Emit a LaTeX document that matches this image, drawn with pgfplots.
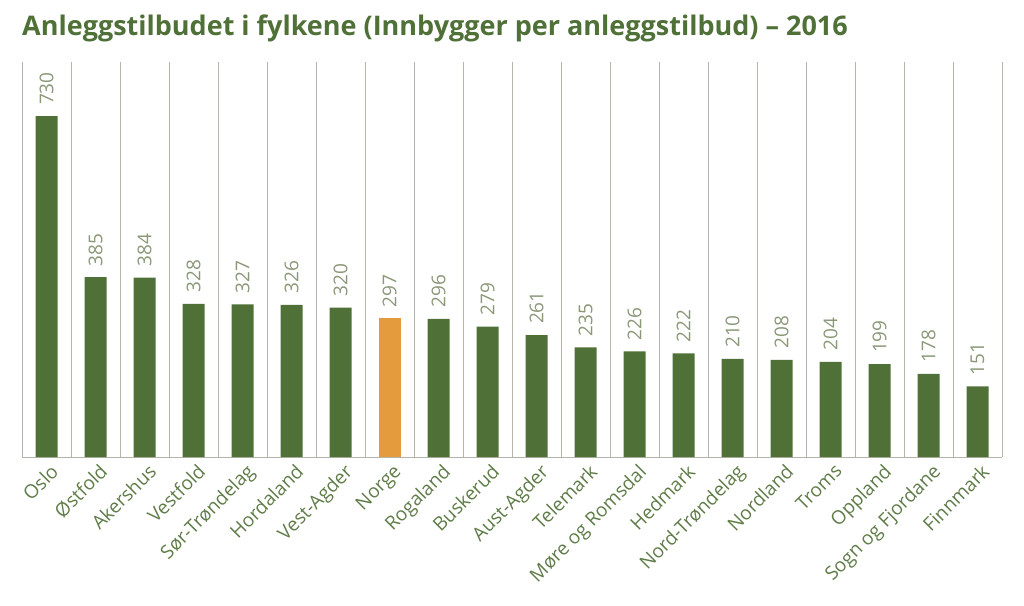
\documentclass[border=0pt]{standalone}
\usepackage{fontspec}
\setmainfont{Open Sans}
\usepackage{pgfplots}
\pgfplotsset{compat=1.18}
\definecolor{bargreen}{HTML}{4F7138}
\definecolor{barorange}{HTML}{E39B3D}
\definecolor{titlegreen}{HTML}{4F7138}
\definecolor{labgreen}{HTML}{5F7C48}
\definecolor{valgray}{HTML}{8A9878}
\definecolor{gridgray}{HTML}{B4B4AA}
\begin{document}
\begin{tikzpicture}
\path[use as bounding box] (0,0) rectangle (1024pt,605pt);
\node[anchor=base west, inner sep=0pt, font=\fontsize{27}{32}\selectfont\bfseries, text=titlegreen] at (22pt,569pt) {Anleggstilbudet i fylkene (Innbygger per anleggstilbud) – 2016};
\begin{axis}[
  at={(22pt,148pt)}, anchor=south west,
  scale only axis, width=980pt, height=395pt,
  xmin=-0.5, xmax=19.5, ymin=0, ymax=846,
  axis y line=none, axis x line*=bottom,
  x axis line style={draw=gridgray, line width=1pt},
  xtick={0,...,19},
  xticklabels={Oslo,Østfold,Akershus,Vestfold,Sør-Trøndelag,Hordaland,Vest-Agder,Norge,Rogaland,Buskerud,Aust-Agder,Telemark,Møre og Romsdal,Hedmark,Nord-Trøndelag,Nordland,Troms,Oppland,Sogn og Fjordane,Finnmark},
  minor xtick={-0.5,0.5,...,19.5},
  minor x grid style={draw=gridgray, line width=1pt},
  xminorgrids=true,
  major tick length=0pt, minor tick length=0pt,
  xticklabel style={rotate=45, anchor=north east, font=\fontsize{19}{22}\selectfont, text=labgreen, inner sep=2pt, yshift=-4pt},
  ybar, bar width=22pt,
  /pgf/number format/assume math mode=true,
  nodes near coords,
  nodes near coords style={rotate=90, anchor=west, font=\fontsize{19}{22}\selectfont, text=valgray, inner xsep=11pt},
  clip=false,
]
\addplot[fill=bargreen, draw=none, bar shift=0pt] coordinates {
(0,730) (1,385) (2,384) (3,328) (4,327) (5,326) (6,320)
(8,296) (9,279) (10,261) (11,235) (12,226) (13,222) (14,210) (15,208) (16,204) (17,199) (18,178) (19,151)};
\addplot[fill=barorange, draw=none, bar shift=0pt] coordinates {(7,297)};
\end{axis}
\end{tikzpicture}
\end{document}
